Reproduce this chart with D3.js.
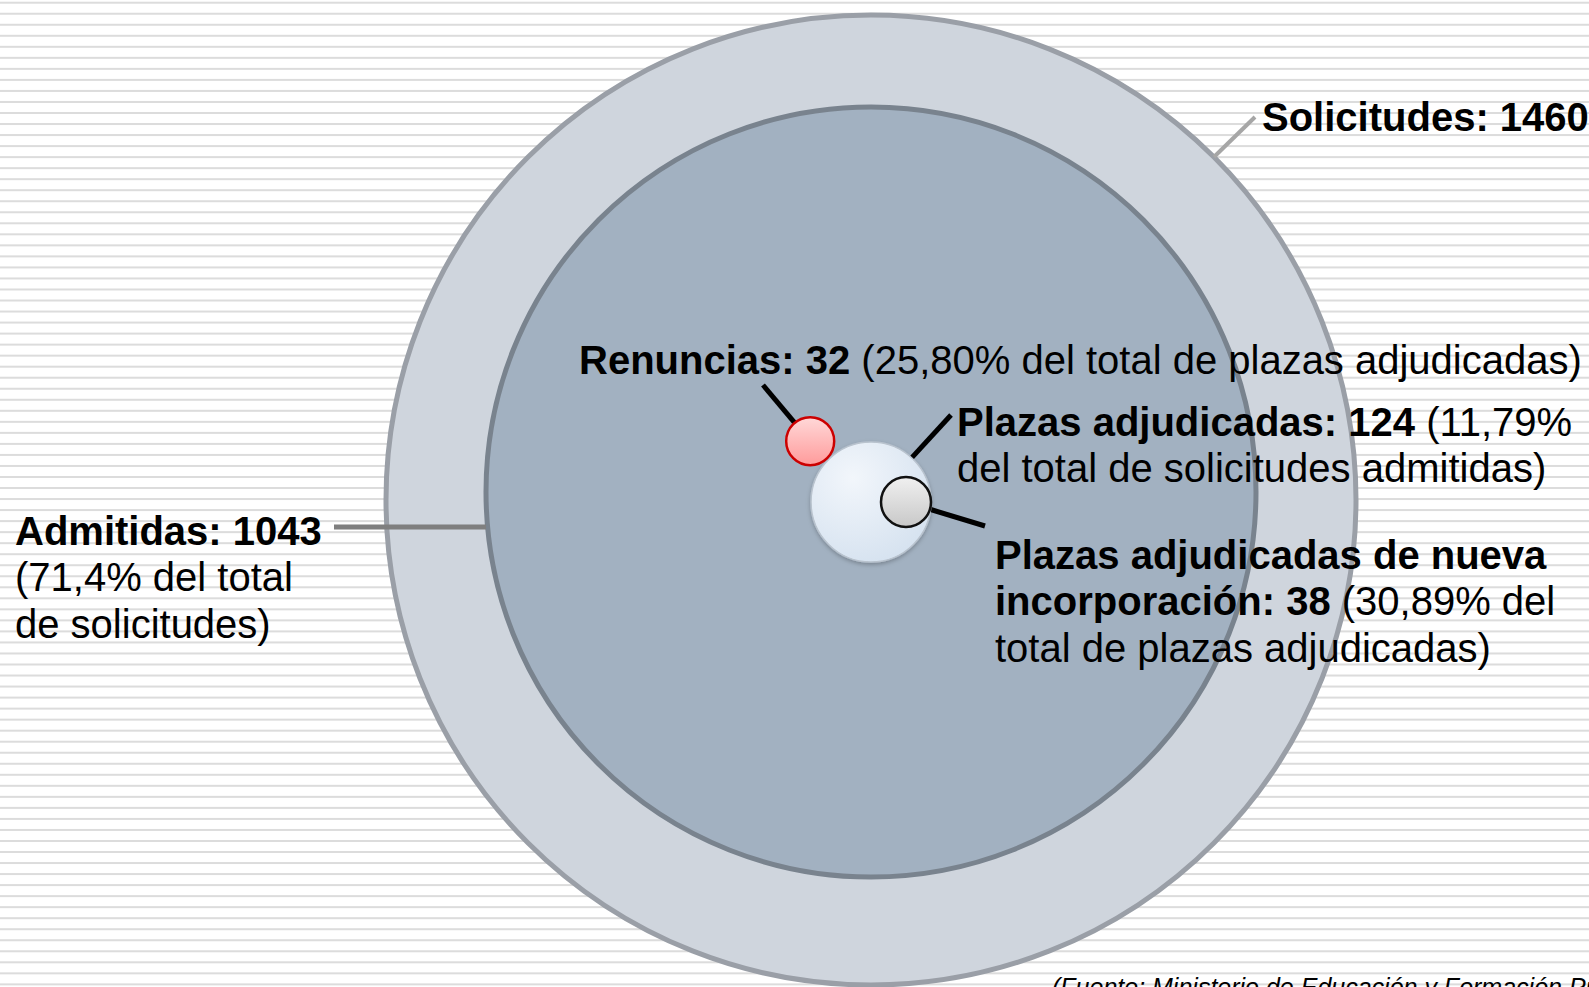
<!DOCTYPE html>
<html>
<head>
<meta charset="utf-8">
<script src="https://cdn.jsdelivr.net/npm/d3@7"></script>
<style>
  html, body { margin: 0; padding: 0; background: #fff; overflow: hidden; }
  svg text { font-family: "Liberation Sans", Arial, Helvetica, sans-serif; fill: #000; }
</style>
</head>
<body>
<div id="chart"></div>
<script>
// data
const categories = ["Solicitudes", "Admitidas", "Plazas adjudicadas", "Plazas adjudicadas de nueva incorporación", "Renuncias"];
const values = [1460, 1043, 124, 38, 32];
const percents = ["", "71,4%", "11,79%", "30,89%", "25,80%"];
const percentOf = ["", "del total de solicitudes", "del total de solicitudes admitidas", "del total de plazas adjudicadas", "del total de plazas adjudicadas"];
const source = "(Fuente: Ministerio de Educación y Formación Profesional)";

const width = 1589, height = 987;
const cx = 871, cy = 500;

const svg = d3.select('#chart')
  .append('svg')
  .attr('width', width)
  .attr('height', height);

// striped background
svg.append('g')
  .selectAll('rect')
  .data(d3.range(1.7, height, 11.03))
  .join('rect')
  .attr('x', 0)
  .attr('y', d => d)
  .attr('width', width)
  .attr('height', 2)
  .attr('fill', '#dcdcdc');

// radius scale (not proportional in the original, so piecewise)
const sorted = values.slice().sort((a, b) => a - b);
const r = d3.scaleLinear()
  .domain(sorted)
  .range([24, 25, 60, 385, 485]);

const defs = svg.append('defs');

const gPl = defs.append('radialGradient').attr('id', 'gradPlazas')
  .attr('cx', '35%').attr('cy', '30%').attr('r', '80%');
gPl.append('stop').attr('offset', '0%').style('stop-color', '#f2f6fb');
gPl.append('stop').attr('offset', '100%').style('stop-color', '#d4e1ef');

const gRed = defs.append('linearGradient').attr('id', 'gradRed')
  .attr('x1', 0).attr('y1', 0).attr('x2', 0).attr('y2', 1);
gRed.append('stop').attr('offset', '0%').style('stop-color', '#ffd8d8');
gRed.append('stop').attr('offset', '100%').style('stop-color', '#ff9b9b');

const gGrey = defs.append('linearGradient').attr('id', 'gradGrey')
  .attr('x1', 0).attr('y1', 0).attr('x2', 0).attr('y2', 1);
gGrey.append('stop').attr('offset', '0%').style('stop-color', '#f0f0f0');
gGrey.append('stop').attr('offset', '100%').style('stop-color', '#c8c8c8');

const shadow = defs.append('filter').attr('id', 'shadow')
  .attr('x', '-20%').attr('y', '-20%').attr('width', '140%').attr('height', '140%');
shadow.append('feDropShadow')
  .attr('dx', 0).attr('dy', 2).attr('stdDeviation', 2)
  .attr('flood-color', '#000').attr('flood-opacity', 0.25);

// positions
const rSol = r(values[0]), rAdm = r(values[1]), rPla = r(values[2]), rNue = r(values[3]), rRen = r(values[4]);
const posSol = [cx, cy];
const posAdm = [cx, cy - 8];
const posPla = [cx, cy + 2];
const posNue = [posPla[0] + rPla - rNue, posPla[1]];
const angRen = -3 * Math.PI / 4;
const posRen = [posPla[0] + Math.cos(angRen) * (rPla + rRen + 2), posPla[1] + Math.sin(angRen) * (rPla + rRen + 2)];

const circles = [
  { v: values[0], p: posSol, fill: '#cfd5dd', stroke: '#9a9fa7', sw: 5 },
  { v: values[1], p: posAdm, fill: '#a2b1c1', stroke: '#79838e', sw: 5 },
  { v: values[2], p: posPla, fill: 'url(#gradPlazas)', stroke: '#b9c3ce', sw: 1.5, filter: 'url(#shadow)' },
  { v: values[3], p: posNue, fill: 'url(#gradGrey)', stroke: '#111', sw: 2.5 },
  { v: values[4], p: posRen, fill: 'url(#gradRed)', stroke: '#cc0000', sw: 2.5 }
];

// leader lines (drawn under the small circles)
const edge = (p, rad, ang) => [p[0] + Math.cos(ang) * rad, p[1] + Math.sin(ang) * rad];
const leaders = [
  { a: edge(posSol, rSol, -Math.PI / 4), b: [1255, 117], c: '#a6a6a6', w: 4 },
  { a: [334, 527], b: [posAdm[0] - rAdm, 527], c: '#7f7f7f', w: 5 },
  { a: edge(posRen, rRen, Math.atan2(385 - posRen[1], 763 - posRen[0])), b: [763, 385], c: '#000', w: 5 },
  { a: edge(posPla, rPla, Math.atan2(415 - posPla[1], 951 - posPla[0])), b: [951, 415], c: '#000', w: 5 },
  { a: edge(posNue, rNue, Math.atan2(526 - posNue[1], 985 - posNue[0])), b: [985, 526], c: '#000', w: 5 }
];

svg.append('g')
  .selectAll('circle')
  .data(circles.slice(0, 2))
  .join('circle')
  .attr('cx', d => d.p[0])
  .attr('cy', d => d.p[1])
  .attr('r', d => r(d.v))
  .attr('fill', d => d.fill)
  .attr('stroke', d => d.stroke)
  .attr('stroke-width', d => d.sw);

svg.append('g')
  .selectAll('line')
  .data(leaders)
  .join('line')
  .attr('x1', d => d.a[0]).attr('y1', d => d.a[1])
  .attr('x2', d => d.b[0]).attr('y2', d => d.b[1])
  .attr('stroke', d => d.c)
  .attr('stroke-width', d => d.w);

svg.append('g')
  .selectAll('circle')
  .data(circles.slice(2))
  .join('circle')
  .attr('cx', d => d.p[0])
  .attr('cy', d => d.p[1])
  .attr('r', d => r(d.v))
  .attr('fill', d => d.fill)
  .attr('stroke', d => d.stroke)
  .attr('stroke-width', d => d.sw)
  .attr('filter', d => d.filter || null);

// labels: each line is a list of [text, bold]
const fs = 40;
const labels = [
  { x: 1262, y: 131, lines: [[[categories[0] + ': ' + values[0], true]]] },
  { x: 15, y: 545, lines: [
      [[categories[1] + ': ' + values[1], true]],
      [['(' + percents[1] + ' del total', false]],
      [['de solicitudes)', false]]
    ] },
  { x: 579, y: 374, lines: [
      [[categories[4] + ': ' + values[4], true], [' (' + percents[4] + ' ' + percentOf[4] + ')', false]]
    ] },
  { x: 957, y: 436, lines: [
      [[categories[2] + ': ' + values[2], true], [' (' + percents[2], false]],
      [[percentOf[2] + ')', false]]
    ] },
  { x: 995, y: 569, lines: [
      [['Plazas adjudicadas de nueva', true]],
      [['incorporación: ' + values[3], true], [' (' + percents[3] + ' del', false]],
      [['total de plazas adjudicadas)', false]]
    ] }
];

const lineH = 46.3;
labels.forEach(lb => {
  lb.lines.forEach((parts, i) => {
    const t = svg.append('text')
      .attr('x', lb.x)
      .attr('y', lb.y + i * lineH)
      .style('font-size', fs + 'px');
    parts.forEach(([s, b]) => {
      t.append('tspan')
        .style('font-weight', b ? 'bold' : 'normal')
        .text(s);
    });
  });
});

svg.append('text')
  .attr('x', 1052)
  .attr('y', 996)
  .style('font-size', '25px')
  .style('font-style', 'italic')
  .text(source);
</script>
</body>
</html>
